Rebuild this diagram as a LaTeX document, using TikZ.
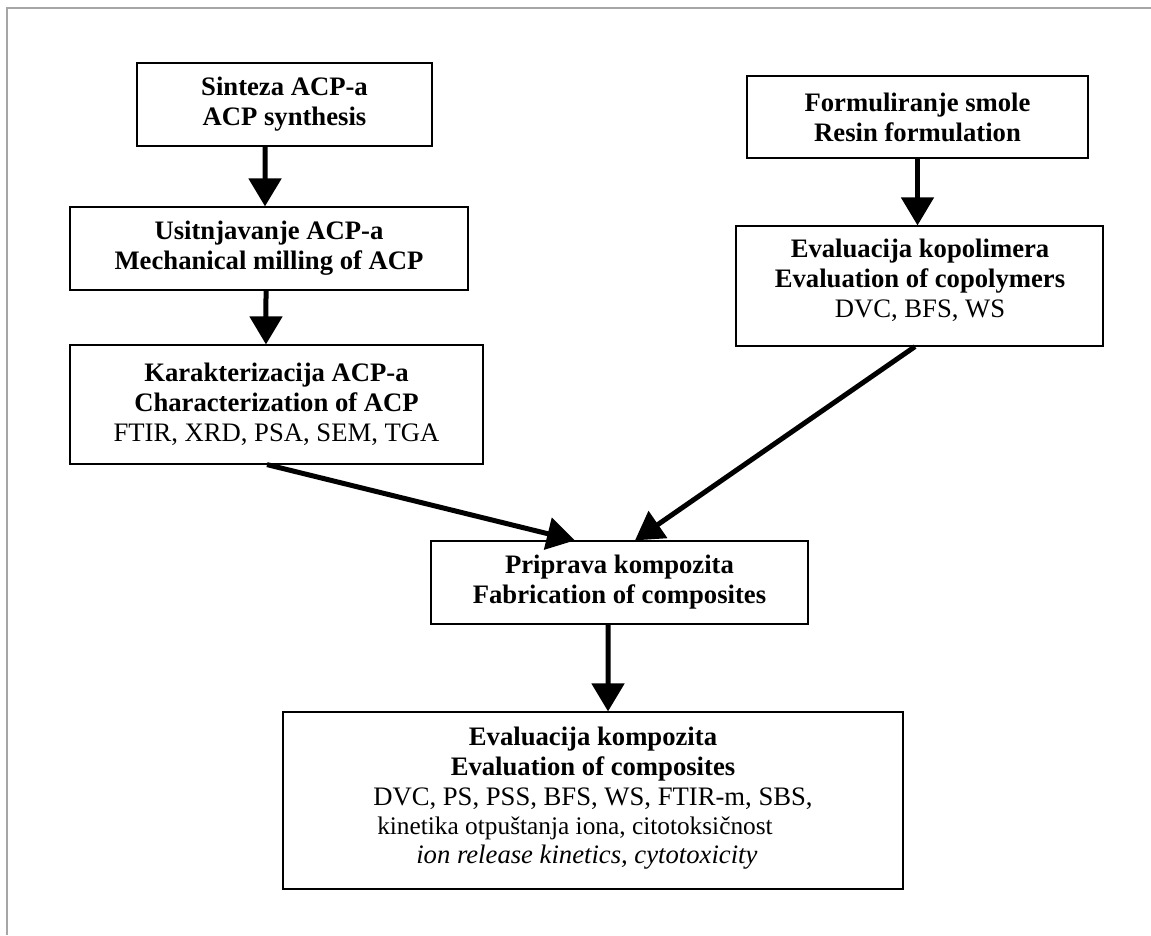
\documentclass[tikz,border=0pt]{standalone}
\usepackage{fontspec}
\setmainfont{Liberation Serif}
\usetikzlibrary{arrows.meta}
\begin{document}
\begin{tikzpicture}[x=0.75pt,y=-0.75pt,
  box/.style={draw=black, line width=0.9pt, fill=white, align=center, inner sep=0pt,
    font=\fontsize{20pt}{22.5pt}\selectfont},
  sz/.style 2 args={minimum width=#1*0.75pt, minimum height=#2*0.75pt},
  txt/.style={inner sep=0pt, align=center, font=\fontsize{20pt}{22.5pt}\selectfont},
  arr/.style={line width=3.75pt, -{Triangle[length=21pt,width=24pt]}},
  frame/.style={draw=gray!70, line width=0.8pt}
]
\useasboundingbox (0,0) rectangle (1151,935);
\draw[frame] (7,935) -- (7,8) -- (1151,8);

% left column
\node[box, sz={295}{83}] (A) at (284.5,104.5) {\textbf{Sinteza ACP-a}\\\textbf{ACP synthesis}};
\node[box, sz={398}{83}] (B) at (269,248.5) {\textbf{Usitnjavanje ACP-a}\\\textbf{Mechanical milling of ACP}};
\node[box, sz={413}{119}] (C) at (276.5,404.5) {\textbf{Karakterizacija ACP-a}\\\textbf{Characterization of ACP}\\FTIR, XRD, PSA, SEM, TGA};

% right column
\node[box, sz={341}{82}] (D) at (917.5,117) {\textbf{Formuliranje smole}\\\textbf{Resin formulation}};
\node[box, sz={367}{120}] (E) at (919.5,286) {};
\node[txt] (Et) at (920,280) {\textbf{Evaluacija kopolimera}\\\textbf{Evaluation of copolymers}\\DVC, BFS, WS};

% centre
\node[box, sz={377}{83}] (F) at (619.5,582.5) {\textbf{Priprava kompozita}\\\textbf{Fabrication of composites}};
\node[box, sz={620}{177}] (G) at (593,800.5) {};
\node[txt, anchor=base] (G1) at (593,745) {\textbf{Evaluacija kompozita}};
\node[txt, anchor=base] (G2) at (593,775) {\textbf{Evaluation of composites}};
\node[txt, anchor=base west] (G3) at (373,805) {DVC, PS, PSS, BFS, WS, FTIR-m, SBS,};
\node[txt, anchor=base west, font=\fontsize{19pt}{22.5pt}\selectfont] (G4) at (377,834) {kinetika otpuštanja iona, citotoksičnost};
\node[txt, anchor=base west] (G5) at (416,863) {\itshape ion release kinetics, cytotoxicity};

% connectors
\draw[arr] ([xshift=-14.6pt]A.south) -- ([xshift=-3pt]B.north);
\draw[arr] ([xshift=-2.25pt]B.south) -- ([xshift=-7.9pt]C.north);
\draw[arr] (D.south) -- (D.south |- E.north);
\draw[arr] ([xshift=-7.1pt]C.south) -- ([xshift=-33.4pt]F.north);
\draw[arr] ([xshift=-3.4pt]E.south) -- ([xshift=11.6pt]F.north);
\draw[arr] ([xshift=-8.6pt]F.south) -- ([xshift=11.25pt]G.north);
\end{tikzpicture}
\end{document}
